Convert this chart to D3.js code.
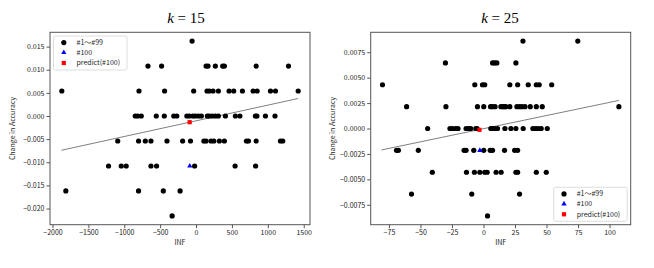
<!doctype html>
<html>
<head>
  <meta charset="utf-8">
  <title>Change in Accuracy vs INF</title>
  <script src="https://cdnjs.cloudflare.com/ajax/libs/d3/7.8.5/d3.min.js"></script>
  <style>
    html, body { margin: 0; padding: 0; background: #fff; }
    svg text { font-family: "Noto Sans CJK JP", "Noto Sans", sans-serif; fill: #222; }
    .title { font-family: "Liberation Serif", "DejaVu Serif", serif; fill: #000; }
  </style>
</head>
<body>
<div id="chart"></div>
<script>
  // ---- data ----
  // k = 15 : y levels and INF values of the dots on each level
  const k15Levels = [0.0162, 0.0108, 0.0054, 0, -0.0054, -0.0108, -0.0162, -0.0216];
  const k15Inf = [
    [-55],
    [-670, -480, 140, 167, 269, 371, 395, 837, 1288],
    [-1870, -795, -438, -33, 153, 186, 237, 311, 460, 525, 646, 795, 851, 1037, 1107, 1423],
    [-847, -812, -763, -554, -442, -310, -268, -128, -93, -45, -10, 32, 74, 158, 186, 227, 269, 311, 409, 548, 611, 827, 848, 967, 1100],
    [-1091, -801, -707, -628, -405, -187, -77, 109, 140, 209, 248, 325, 395, 702, 730, 837, 1176, 1208],
    [-1219, -1042, -973, -628, -550, -20, 544, 830],
    [-1814, -801, -456, -222],
    [-333]
  ];
  const k15Target = [-87, -0.0108];     // #100
  const k15Predict = [-89, -0.00134];   // predict(#100)
  const k15Trend = [[-1875, -0.0074], [1423, 0.00378]];
  const k15XTicks = [-2000, -1500, -1000, -500, 0, 500, 1000, 1500];
  const k15YTicks = [-0.020, -0.015, -0.010, -0.005, 0, 0.005, 0.010, 0.015];

  // k = 25
  const k25Levels = [0.0086, 0.00645, 0.0043, 0.00215, 0, -0.00215, -0.0043, -0.00645, -0.0086];
  const k25Inf = [
    [31.3, 74.8],
    [-30.2, 7.2, 8.8, 10.6, 25.7],
    [-80.1, -6.9, -0.8, 1.0, 20.9, 27.1, 35.5, 41.9, 44.2, 54.1],
    [-61, -29.8, -4.8, 0.2, 5.6, 7.2, 9.2, 13.8, 15.4, 16.7, 17.7, 20.9, 26.5, 28.6, 30.5, 32.9, 37.1, 41.9, 46.6, 107.4],
    [-44.3, -26.6, -24.4, -22, -20.2, -13.8, -11.9, -10.1, -6.1, -5.1, 5.8, 7.2, 8.8, 11.1, 17, 21.7, 25.7, 31.5, 39.2, 41.4, 43.5, 45.8, 50.6],
    [-69, -67.5, -51.7, -15.4, -13.8, -7.7, 0.2, 5.3, 7.2, 16.7, 24.7, 27.1],
    [-40.6, -13.5, -7.2, -2.9, 1, 2.9, 10, 14, 25.7, 27.1, 41.9, 49.8],
    [-57.1, -9.3, 28.6],
    [3.2]
  ];
  const k25Target = [-2.9, -0.00215];
  const k25Predict = [-3.2, -0.00013];
  const k25Trend = [[-80.9, -0.00211], [107.4, 0.00276]];
  const k25XTicks = [-75, -50, -25, 0, 25, 50, 75, 100];
  const k25YTicks = [-0.0075, -0.0050, -0.0025, 0, 0.0025, 0.0050, 0.0075];

  const legendLabels = ["#1～#99", "#100", "predict(#100)"];

  // ---- drawing ----
  const svg = d3.select('#chart').append('svg')
    .attr('width', 654)
    .attr('height', 268);

  const spine = '#555';
  const fmtMinus = s => s.replace('-', '\u2212');

  function padded(ext) {
    const p = (ext[1] - ext[0]) * 0.05;
    return [ext[0] - p, ext[1] + p];
  }

  function panel(opt) {
    const g = svg.append('g');
    const pts = [];
    opt.inf.forEach((row, i) => row.forEach(v => pts.push([v, opt.levels[i]])));

    const x = d3.scaleLinear()
      .domain(padded(d3.extent(pts, d => d[0])))
      .range([opt.left, opt.right]);
    const y = d3.scaleLinear()
      .domain(padded(d3.extent(pts, d => d[1])))
      .range([opt.bottom, opt.top]);

    // axes frame
    g.append('rect')
      .attr('x', opt.left).attr('y', opt.top)
      .attr('width', opt.right - opt.left).attr('height', opt.bottom - opt.top)
      .attr('fill', 'none').attr('stroke', spine).attr('stroke-width', 1);

    const xAxis = g.append('g')
      .attr('transform', `translate(0,${opt.bottom})`)
      .call(d3.axisBottom(x).tickValues(opt.xTicks).tickSize(3.5).tickPadding(2)
        .tickFormat(d => fmtMinus(String(d))));
    const yAxis = g.append('g')
      .attr('transform', `translate(${opt.left},0)`)
      .call(d3.axisLeft(y).tickValues(opt.yTicks).tickSize(3.5).tickPadding(2)
        .tickFormat(d => fmtMinus(d3.format(opt.yFmt)(d))));
    [xAxis, yAxis].forEach(a => {
      a.select('.domain').remove();
      a.selectAll('line').attr('stroke', spine);
      a.selectAll('text').attr('font-size', 7).attr('fill', '#222')
        .attr('font-family', '"Noto Sans CJK JP", sans-serif');
    });

    // trend line
    g.append('line')
      .attr('x1', x(opt.trend[0][0])).attr('y1', y(opt.trend[0][1]))
      .attr('x2', x(opt.trend[1][0])).attr('y2', y(opt.trend[1][1]))
      .attr('stroke', '#808080').attr('stroke-width', 1);

    // dots
    g.append('g').selectAll('circle')
      .data(pts)
      .join('circle')
      .attr('cx', d => x(d[0]))
      .attr('cy', d => y(d[1]))
      .attr('r', 2.6)
      .attr('fill', '#000');

    // #100
    g.append('path')
      .attr('d', d3.symbol(d3.symbolTriangle, 12)())
      .attr('transform', `translate(${x(opt.target[0])},${y(opt.target[1])})`)
      .attr('fill', '#0000ff');
    // predict
    g.append('rect')
      .attr('x', x(opt.predict[0]) - 2.1).attr('y', y(opt.predict[1]) - 2.1)
      .attr('width', 4.2).attr('height', 4.2)
      .attr('fill', '#ff0000');

    // labels
    g.append('text')
      .attr('x', (opt.left + opt.right) / 2).attr('y', opt.bottom + 20.5)
      .attr('text-anchor', 'middle').attr('font-size', 7)
      .text('INF');
    g.append('text')
      .attr('transform', `translate(${opt.left - 35.5},${(opt.top + opt.bottom) / 2}) rotate(-90)`)
      .attr('text-anchor', 'middle').attr('font-size', 7)
      .text('Change in Accuracy');

    // title
    const t = g.append('text').attr('class', 'title')
      .attr('x', opt.titleX).attr('y', 22.5)
      .attr('text-anchor', 'middle').attr('font-size', 15);
    t.append('tspan').attr('font-style', 'italic').text('k');
    t.append('tspan').text(' = ' + opt.k);

    // legend
    const lg = g.append('g').attr('transform', `translate(${opt.legend[0]},${opt.legend[1]})`);
    lg.append('rect')
      .attr('width', 73.5).attr('height', 34).attr('rx', 2)
      .attr('fill', '#fff').attr('fill-opacity', 0.8)
      .attr('stroke', '#d4d4d4').attr('stroke-width', 0.8);
    const rowsY = [6.6, 16.6, 27];
    lg.append('circle').attr('cx', 10.3).attr('cy', rowsY[0]).attr('r', 2.6).attr('fill', '#000');
    lg.append('path').attr('d', d3.symbol(d3.symbolTriangle, 12)())
      .attr('transform', `translate(10.3,${rowsY[1]})`).attr('fill', '#0000ff');
    lg.append('rect').attr('x', 8.2).attr('y', rowsY[2] - 2.1).attr('width', 4.2).attr('height', 4.2).attr('fill', '#ff0000');
    lg.selectAll('text.lab')
      .data(legendLabels)
      .join('text')
      .attr('class', 'lab')
      .attr('x', 23).attr('y', (d, i) => rowsY[i])
      .attr('dy', '0.35em').attr('font-size', 7)
      .text(d => d);
  }

  panel({
    k: 15, levels: k15Levels, inf: k15Inf, target: k15Target, predict: k15Predict,
    trend: k15Trend, xTicks: k15XTicks, yTicks: k15YTicks, yFmt: '.3f',
    left: 50, right: 310, top: 32.3, bottom: 224.7, titleX: 186, legend: [53.5, 36]
  });
  panel({
    k: 25, levels: k25Levels, inf: k25Inf, target: k25Target, predict: k25Predict,
    trend: k25Trend, xTicks: k25XTicks, yTicks: k25YTicks, yFmt: '.4f',
    left: 370.7, right: 630.7, top: 32.3, bottom: 224.7, titleX: 500, legend: [553.7, 187.3]
  });
</script>
</body>
</html>
